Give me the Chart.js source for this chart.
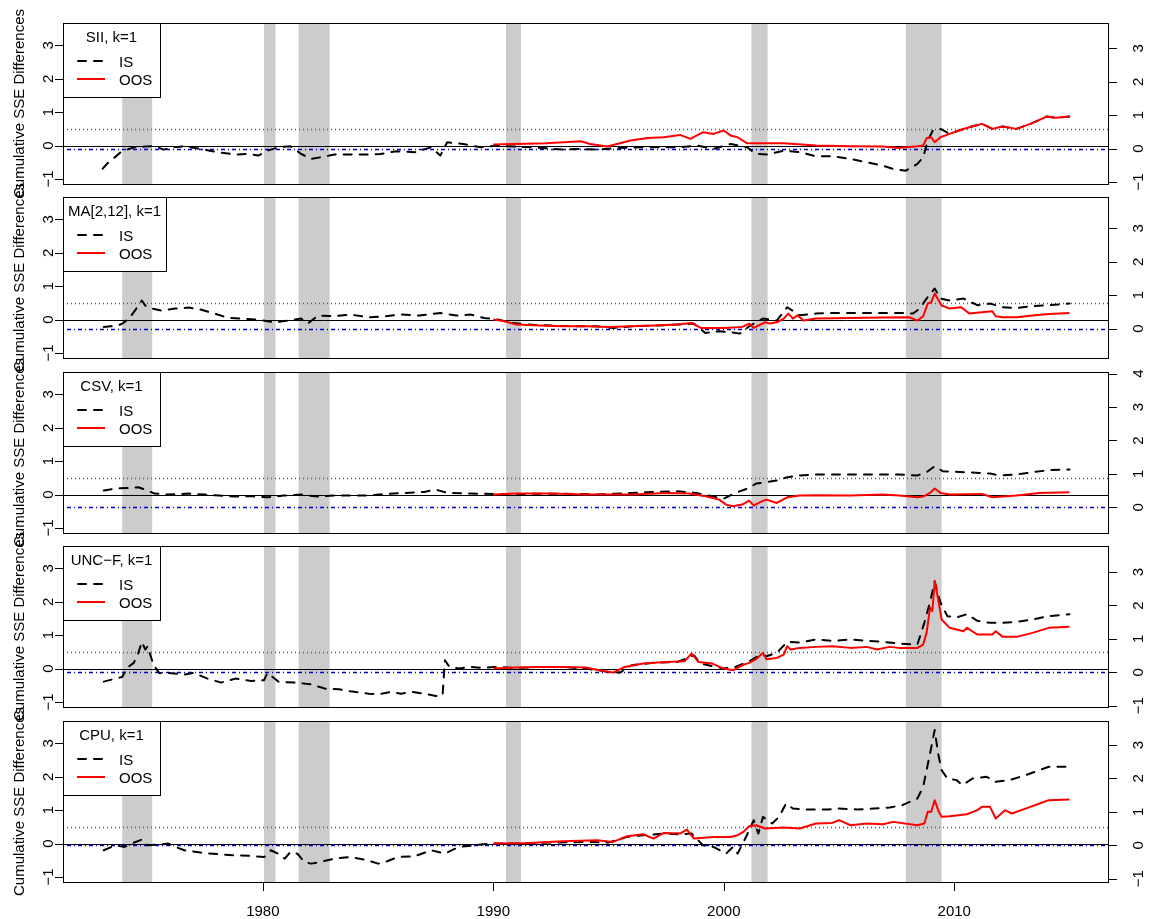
<!DOCTYPE html>
<html>
<head>
<meta charset="utf-8">
<script src="https://cdn.jsdelivr.net/npm/chart.js@4"></script>
<style>
  body { margin: 0; background: #fff; }
  #wrap { position: relative; width: 1149px; height: 919px; }
  #wrap canvas { position: absolute; left: 0; top: 0; }
</style>
</head>
<body>
<div id="wrap"></div>
<script>
// ---- data (year, cumulative SSE difference) ----

const panelTitles = ['SII, k=1', 'MA[2,12], k=1', 'CSV, k=1', 'UNC\u2212F, k=1', 'CPU, k=1'];

// NBER recessions (start, end)
const recessions = [[1973.9, 1975.2], [1980.05, 1980.55], [1981.55, 1982.9],
                    [1990.55, 1991.2], [2001.2, 2001.9], [2007.9, 2009.45]];

// dash-dot reference level per panel (right axis zero)
const blueLevels = [-0.09, -0.27, -0.38, -0.11, -0.05];
const redLevel = 0.5;

const leftTicks = [-1, 0, 1, 2, 3];
const yearTicks = [1980, 1990, 2000, 2010];

const siiIS = [[1973.05,-0.69],[1973.3,-0.5],[1973.56,-0.36],[1973.87,-0.18],[1974.1,-0.12],[1974.43,-0.05],[1974.9,-0.03],
  [1975.3,-0.02],[1975.7,-0.12],[1976.1,-0.05],[1976.6,-0.02],[1977.3,-0.1],[1978.06,-0.2],[1978.8,-0.27],[1979.4,-0.25],
  [1979.8,-0.3],[1980.2,-0.15],[1980.7,-0.05],[1981.2,-0.02],[1981.66,-0.25],[1982.1,-0.4],[1982.5,-0.35],[1983.1,-0.27],
  [1983.8,-0.27],[1984.6,-0.27],[1985.1,-0.25],[1985.8,-0.17],[1986.6,-0.2],[1987.3,-0.05],[1987.7,-0.3],[1988.0,0.1],
  [1988.7,0.05],[1989.45,-0.05],[1990.2,0.0],[1990.9,-0.03],[1991.6,-0.05],[1992.3,-0.08],[1993.0,-0.12],[1993.8,-0.1],
  [1994.5,-0.12],[1995.2,-0.08],[1995.95,-0.06],[1996.7,-0.05],[1997.4,-0.05],[1998.1,-0.05],[1998.85,0.0],[1999.55,-0.1],
  [2000.3,0.05],[2001.0,-0.05],[2001.4,-0.25],[2001.9,-0.27],[2002.6,-0.15],[2003.3,-0.2],[2004.0,-0.32],[2004.7,-0.32],
  [2005.5,-0.4],[2006.2,-0.5],[2006.9,-0.6],[2007.35,-0.7],[2007.9,-0.75],[2008.4,-0.55],[2008.65,-0.35],[2008.85,0.15],
  [2009.07,0.45],[2009.4,0.5],[2009.8,0.35],[2010.2,0.45],[2010.65,0.55],[2011.2,0.65],[2011.65,0.5],[2012.1,0.57],
  [2012.7,0.5],[2013.3,0.65],[2013.7,0.77],[2014.0,0.87],[2014.4,0.83],[2015.0,0.87]];
const siiOOS = [[1990.0,0.03],[1990.9,0.05],[1992.3,0.07],[1993.8,0.13],[1994.2,0.05],[1994.95,-0.03],[1995.95,0.15],
  [1996.7,0.23],[1997.4,0.25],[1998.1,0.32],[1998.55,0.2],[1999.1,0.4],[1999.55,0.35],[2000.0,0.45],[2000.3,0.3],
  [2000.6,0.25],[2001.0,0.07],[2002.6,0.07],[2004.0,0.0],[2005.5,-0.02],[2006.9,-0.03],[2007.6,-0.07],[2008.4,-0.02],
  [2008.65,0.0],[2008.8,0.22],[2009.0,0.25],[2009.15,0.1],[2009.4,0.25],[2009.8,0.35],[2010.2,0.45],[2010.65,0.55],
  [2011.2,0.65],[2011.65,0.5],[2012.1,0.57],[2012.7,0.5],[2013.3,0.65],[2013.7,0.77],[2014.0,0.87],[2014.4,0.83],[2015.0,0.87]];

const maIS = [[1973.1,-0.22],[1973.4,-0.2],[1973.7,-0.18],[1973.9,-0.12],[1974.2,0.03],[1974.45,0.27],[1974.75,0.57],
  [1974.9,0.42],[1975.2,0.33],[1975.6,0.27],[1976.2,0.33],[1976.8,0.36],[1977.3,0.3],[1977.9,0.18],[1978.5,0.05],
  [1979.05,0.03],[1979.8,0.0],[1980.5,-0.08],[1981.1,-0.03],[1981.66,0.03],[1981.95,-0.12],[1982.4,0.12],[1983.1,0.1],
  [1983.8,0.15],[1984.6,0.07],[1985.3,0.1],[1986.0,0.15],[1986.8,0.12],[1987.7,0.2],[1988.4,0.12],[1989.0,0.15],
  [1989.6,0.05],[1990.2,0.0],[1990.8,-0.1],[1991.5,-0.15],[1992.5,-0.18],[1993.5,-0.2],[1994.5,-0.2],[1995.2,-0.25],
  [1996.0,-0.2],[1997.0,-0.18],[1998.0,-0.15],[1998.7,-0.12],[1999.2,-0.4],[1999.8,-0.35],[2000.3,-0.38],[2000.7,-0.42],
  [2001.1,-0.2],[2001.7,0.03],[2002.3,-0.03],[2002.75,0.37],[2003.3,0.13],[2004.0,0.18],[2004.75,0.2],[2005.5,0.2],
  [2006.2,0.2],[2006.9,0.2],[2007.6,0.2],[2008.2,0.18],[2008.5,0.33],[2008.8,0.63],[2009.15,0.93],[2009.4,0.63],
  [2009.8,0.57],[2010.4,0.63],[2011.0,0.43],[2011.55,0.48],[2012.1,0.37],[2012.7,0.35],[2013.4,0.4],[2014.1,0.43],[2015.0,0.48]];
const maOOS = [[1990.0,0.0],[1990.5,-0.05],[1991.0,-0.15],[1992.0,-0.18],[1993.0,-0.2],[1994.0,-0.2],[1995.0,-0.22],
  [1996.0,-0.2],[1997.0,-0.18],[1998.0,-0.15],[1998.6,-0.1],[1999.0,-0.25],[2000.0,-0.25],[2000.8,-0.22],[2001.1,-0.12],
  [2001.3,-0.25],[2001.8,-0.08],[2002.0,-0.12],[2002.3,-0.08],[2002.6,0.03],[2002.8,0.18],[2003.0,0.03],[2003.2,0.13],
  [2003.45,-0.03],[2004.0,0.03],[2005.5,0.05],[2006.9,0.06],[2008.05,0.07],[2008.4,-0.03],[2008.65,0.1],[2008.85,0.48],
  [2009.0,0.52],[2009.15,0.78],[2009.45,0.42],[2009.8,0.33],[2010.3,0.37],[2010.65,0.18],[2011.2,0.22],[2011.65,0.25],
  [2011.8,0.1],[2012.1,0.07],[2012.7,0.07],[2013.4,0.12],[2014.1,0.17],[2015.0,0.2]];

const csvIS = [[1973.1,0.12],[1973.6,0.18],[1974.2,0.2],[1974.6,0.22],[1975.0,0.12],[1975.3,0.03],[1975.9,0.0],
  [1976.8,0.03],[1977.5,0.0],[1978.1,-0.03],[1978.8,-0.06],[1979.5,-0.05],[1980.2,-0.08],[1980.9,-0.03],[1981.66,0.0],
  [1982.4,-0.06],[1983.1,-0.03],[1984.6,-0.03],[1985.3,0.02],[1986.2,0.05],[1987.0,0.08],[1987.5,0.15],[1988.0,0.05],
  [1989.0,0.03],[1990.0,0.02],[1991.5,0.02],[1993.0,0.03],[1994.5,0.0],[1996.0,0.05],[1997.0,0.08],[1998.0,0.1],
  [1998.8,0.05],[1999.5,-0.05],[2000.0,-0.12],[2000.5,0.05],[2001.1,0.2],[2001.4,0.33],[2001.85,0.37],[2002.3,0.42],
  [2002.75,0.52],[2003.3,0.57],[2004.0,0.6],[2005.5,0.6],[2006.9,0.6],[2007.6,0.6],[2008.4,0.57],[2008.8,0.67],
  [2009.15,0.85],[2009.5,0.7],[2010.5,0.67],[2011.55,0.63],[2012.0,0.57],[2012.7,0.6],[2013.4,0.67],[2014.1,0.73],[2015.0,0.75]];
const csvOOS = [[1990.0,0.0],[1991.0,0.03],[1992.5,0.03],[1994.0,0.0],[1996.0,0.0],[1997.5,0.05],[1998.5,0.03],
  [1999.2,-0.05],[1999.8,-0.15],[2000.1,-0.3],[2000.4,-0.35],[2000.8,-0.3],[2001.1,-0.18],[2001.3,-0.33],[2001.6,-0.22],
  [2001.85,-0.15],[2002.3,-0.25],[2002.75,-0.08],[2003.3,-0.03],[2004.0,-0.02],[2005.5,-0.03],[2006.9,0.0],[2007.6,-0.03],
  [2008.4,-0.08],[2008.65,-0.06],[2008.95,0.05],[2009.15,0.18],[2009.4,0.05],[2009.8,0.0],[2011.2,0.02],[2011.65,-0.08],
  [2012.7,-0.03],[2013.7,0.05],[2015.0,0.07]];

const uncIS = [[1973.1,-0.39],[1973.6,-0.3],[1973.9,-0.25],[1974.1,0.02],[1974.4,0.17],[1974.6,0.47],[1974.75,0.8],
  [1974.9,0.57],[1975.0,0.67],[1975.25,0.12],[1975.5,-0.13],[1975.9,-0.13],[1976.6,-0.18],[1977.0,-0.13],[1977.6,-0.3],
  [1978.2,-0.42],[1978.8,-0.3],[1979.5,-0.37],[1980.05,-0.35],[1980.2,-0.13],[1980.7,-0.4],[1981.4,-0.42],[1982.1,-0.47],
  [1982.7,-0.6],[1983.3,-0.62],[1983.8,-0.68],[1984.6,-0.75],[1985.0,-0.77],[1985.55,-0.7],[1986.0,-0.75],[1986.5,-0.7],
  [1987.0,-0.75],[1987.5,-0.82],[1987.8,-0.8],[1987.9,0.25],[1988.1,0.05],[1988.5,0.0],[1989.0,0.05],[1989.5,0.02],
  [1990.0,0.05],[1991.0,0.02],[1992.0,0.05],[1993.0,0.05],[1994.0,0.0],[1995.0,-0.1],[1995.5,-0.12],[1996.0,0.1],
  [1997.0,0.18],[1998.0,0.2],[1998.7,0.4],[1999.0,0.15],[2000.0,0.0],[2000.5,0.05],[2001.1,0.22],[2001.6,0.42],
  [2001.85,0.37],[2002.3,0.47],[2002.75,0.8],[2003.3,0.78],[2004.0,0.87],[2004.7,0.83],[2005.5,0.87],[2006.2,0.83],
  [2006.9,0.8],[2007.6,0.75],[2008.4,0.72],[2008.7,1.37],[2008.95,2.0],[2009.15,2.6],[2009.4,1.98],[2009.7,1.57],
  [2010.1,1.53],[2010.55,1.63],[2011.0,1.43],[2011.55,1.37],[2012.1,1.37],[2012.7,1.4],[2013.4,1.47],[2014.1,1.57],[2015.0,1.63]];
const uncOOS = [[1990.0,0.0],[1991.0,0.03],[1992.0,0.05],[1993.0,0.05],[1994.0,0.03],[1994.6,-0.05],[1995.2,-0.12],
  [1995.7,0.05],[1996.5,0.15],[1997.5,0.2],[1998.3,0.22],[1998.6,0.45],[1998.9,0.2],[1999.5,0.15],[2000.0,0.0],
  [2000.4,-0.05],[2000.8,0.1],[2001.1,0.17],[2001.4,0.28],[2001.7,0.47],[2001.85,0.28],[2002.3,0.32],[2002.6,0.42],
  [2002.75,0.67],[2002.9,0.57],[2003.3,0.62],[2004.0,0.65],[2004.7,0.67],[2005.5,0.62],[2006.2,0.65],[2006.65,0.57],
  [2007.2,0.65],[2007.6,0.62],[2008.4,0.62],[2008.65,0.72],[2008.8,1.07],[2008.95,1.83],[2009.05,1.72],[2009.15,2.63],
  [2009.3,2.08],[2009.45,1.47],[2009.8,1.22],[2010.4,1.12],[2010.55,1.22],[2011.0,1.02],[2011.65,1.02],[2011.8,1.12],
  [2012.1,0.95],[2012.7,0.95],[2013.4,1.07],[2014.1,1.22],[2015.0,1.25]];

const cpuIS = [[1973.1,-0.2],[1973.6,-0.05],[1974.0,-0.1],[1974.3,0.0],[1974.75,0.12],[1975.0,-0.05],[1975.5,-0.03],
  [1975.9,0.0],[1976.2,-0.1],[1976.6,-0.2],[1977.3,-0.27],[1978.1,-0.32],[1978.8,-0.35],[1979.5,-0.37],[1980.07,-0.4],
  [1980.35,-0.2],[1980.65,-0.3],[1980.95,-0.45],[1981.2,-0.25],[1981.5,-0.3],[1981.8,-0.55],[1982.1,-0.6],[1982.5,-0.55],
  [1983.1,-0.45],[1983.8,-0.4],[1984.55,-0.5],[1985.0,-0.6],[1985.4,-0.53],[1985.85,-0.4],[1986.6,-0.38],[1987.3,-0.2],
  [1987.9,-0.3],[1988.5,-0.1],[1989.2,-0.05],[1989.9,0.0],[1991.0,0.0],[1992.5,0.03],[1994.0,0.05],[1995.0,0.03],
  [1995.8,0.2],[1996.5,0.25],[1997.4,0.3],[1998.1,0.28],[1998.6,0.3],[1999.1,-0.05],[1999.55,-0.1],[2000.1,-0.3],
  [2000.4,-0.1],[2000.6,-0.3],[2001.0,0.25],[2001.3,0.7],[2001.5,0.3],[2001.7,0.8],[2002.1,0.6],[2002.4,0.8],
  [2002.7,1.2],[2003.0,1.05],[2003.6,1.02],[2004.5,1.02],[2005.0,1.05],[2005.8,1.02],[2006.5,1.05],[2007.2,1.08],
  [2007.75,1.15],[2008.4,1.35],[2008.65,1.7],[2008.8,2.2],[2008.95,2.7],[2009.15,3.4],[2009.3,2.7],[2009.45,2.2],
  [2009.7,1.95],[2010.1,1.9],[2010.35,1.75],[2010.8,1.95],[2011.4,2.0],[2011.8,1.85],[2012.4,1.9],[2013.1,2.05],
  [2013.7,2.2],[2014.1,2.3],[2015.0,2.3]];
const cpuOOS = [[1990.0,0.0],[1991.6,0.02],[1993.0,0.07],[1994.5,0.1],[1995.2,0.05],[1995.8,0.22],[1996.5,0.28],
  [1996.95,0.15],[1997.4,0.32],[1998.1,0.3],[1998.4,0.42],[1998.7,0.15],[1999.55,0.2],[2000.3,0.2],[2000.6,0.25],
  [2000.85,0.35],[2001.1,0.52],[2001.4,0.55],[2001.8,0.45],[2002.6,0.48],[2003.3,0.45],[2004.0,0.6],[2004.7,0.62],
  [2005.0,0.7],[2005.5,0.55],[2006.2,0.6],[2006.9,0.58],[2007.35,0.65],[2008.4,0.55],[2008.7,0.6],[2008.85,0.95],
  [2009.0,0.95],[2009.15,1.3],[2009.3,1.0],[2009.45,0.8],[2009.8,0.82],[2010.55,0.88],[2011.0,1.0],[2011.2,1.1],
  [2011.55,1.1],[2011.8,0.75],[2012.2,1.0],[2012.5,0.9],[2013.3,1.1],[2013.7,1.2],[2014.1,1.3],[2015.0,1.32]];

const panelIS = [siiIS, maIS, csvIS, uncIS, cpuIS];
const panelOOS = [siiOOS, maOOS, csvOOS, uncOOS, cpuOOS];

// ---- layout ----
const W = 1149, H = 919;
const PLOT_LEFT = 63, PLOT_RIGHT = 1108, PLOT_H = 161;
const panelTops = [23, 197, 372, 546, 721];
const X_MIN = 1971.33, X_MAX = 2016.67;
const Y_MIN = -1.15, Y_MAX = 3.67;
const FONT = "'Liberation Sans', Arial, Helvetica, sans-serif";
const MINUS = '\u2212';

function toXY(arr) {
  return arr.map(p => ({ x: p[0], y: p[1] }));
}

function crisp(v) {
  return Math.round(v) + 0.5;
}

function fmt(v) {
  return v < 0 ? MINUS + Math.abs(v) : String(v);
}

// draws rotated (reading upwards) text with its baseline at bx
function upText(ctx, text, bx, cy) {
  ctx.save();
  ctx.translate(bx, cy);
  ctx.rotate(-Math.PI / 2);
  ctx.textAlign = 'center';
  ctx.textBaseline = 'alphabetic';
  ctx.fillText(text, 0, 0);
  ctx.restore();
}

const panelPlugin = {
  id: 'rPanel',
  beforeDatasetsDraw(chart) {
    const { ctx, chartArea: a, scales } = chart;
    const idx = chart.options.plugins.rPanel.index;
    const xs = scales.x, ys = scales.y;

    // recession shading
    ctx.save();
    ctx.fillStyle = '#CCCCCC';
    recessions.forEach(([s, e]) => {
      const x1 = xs.getPixelForValue(s);
      const x2 = xs.getPixelForValue(e);
      ctx.fillRect(x1, a.top, x2 - x1, a.bottom - a.top);
    });

    // horizontal reference lines
    const hline = (v, color, dash, width) => {
      const y = crisp(ys.getPixelForValue(v));
      ctx.beginPath();
      ctx.strokeStyle = color;
      ctx.lineWidth = width;
      ctx.setLineDash(dash);
      ctx.moveTo(a.left, y);
      ctx.lineTo(a.right, y);
      ctx.stroke();
    };
    hline(0, '#000000', [], 1);
    hline(redLevel, '#D02020', [1, 3], 1.3);
    hline(blueLevels[idx], '#0000CD', [1, 3, 4, 3], 1.4);
    ctx.restore();
  },
  afterDatasetsDraw(chart) {
    const { ctx, chartArea: a, scales } = chart;
    const idx = chart.options.plugins.rPanel.index;
    const xs = scales.x, ys = scales.y, yr = scales.yr;

    ctx.save();
    ctx.font = '15px ' + FONT;
    ctx.fillStyle = '#000';
    ctx.strokeStyle = '#000';
    ctx.lineWidth = 1;
    ctx.setLineDash([]);

    // legend box
    const title = panelTitles[idx];
    const boxW = Math.max(97, Math.ceil(ctx.measureText(title).width) + 10);
    const lx = a.left, ly = a.top;
    ctx.fillStyle = '#fff';
    ctx.fillRect(lx, ly, boxW, 74);
    ctx.strokeRect(crisp(lx), crisp(ly), boxW, 74);
    ctx.fillStyle = '#000';
    ctx.textAlign = 'center';
    ctx.textBaseline = 'alphabetic';
    ctx.fillText(title, lx + boxW / 2, ly + 18.5);

    ctx.lineWidth = 2;
    ctx.lineCap = 'round';
    ctx.beginPath();
    ctx.setLineDash([8, 8]);
    ctx.moveTo(lx + 15, ly + 38);
    ctx.lineTo(lx + 42, ly + 38);
    ctx.stroke();
    ctx.beginPath();
    ctx.setLineDash([]);
    ctx.lineCap = 'butt';
    ctx.strokeStyle = '#FF0000';
    ctx.moveTo(lx + 14, ly + 56);
    ctx.lineTo(lx + 42, ly + 56);
    ctx.stroke();
    ctx.textAlign = 'left';
    ctx.fillText('IS', lx + 56, ly + 43.5);
    ctx.fillText('OOS', lx + 56, ly + 61.5);

    // plot box
    ctx.strokeStyle = '#000';
    ctx.lineWidth = 1;
    ctx.strokeRect(crisp(a.left), crisp(a.top), a.right - a.left, a.bottom - a.top);

    // left axis
    ctx.beginPath();
    leftTicks.forEach(v => {
      const y = crisp(ys.getPixelForValue(v));
      ctx.moveTo(a.left, y);
      ctx.lineTo(a.left - 8, y);
    });
    ctx.stroke();
    leftTicks.forEach(v => upText(ctx, fmt(v), 53, ys.getPixelForValue(v)));

    // right axis (shifted by the dash-dot level)
    ctx.beginPath();
    const rTicks = [];
    for (let r = Math.ceil(yr.min); r <= Math.floor(yr.max); r++) rTicks.push(r);
    rTicks.forEach(r => {
      const y = crisp(yr.getPixelForValue(r));
      ctx.moveTo(a.right, y);
      ctx.lineTo(a.right + 9, y);
    });
    ctx.stroke();
    rTicks.forEach(r => upText(ctx, fmt(r), 1142.5, yr.getPixelForValue(r)));

    // y title
    upText(ctx, 'Cumulative SSE Differences', 24, (a.top + a.bottom) / 2);

    // x axis on the bottom panel only
    if (idx === panelTops.length - 1) {
      ctx.beginPath();
      yearTicks.forEach(t => {
        const x = crisp(xs.getPixelForValue(t));
        ctx.moveTo(x, a.bottom);
        ctx.lineTo(x, a.bottom + 9);
      });
      ctx.stroke();
      ctx.textAlign = 'center';
      yearTicks.forEach(t => ctx.fillText(String(t), xs.getPixelForValue(t), 916));
    }
    ctx.restore();
  }
};

const wrap = document.getElementById('wrap');

panelTops.forEach((top, i) => {
  const canvas = document.createElement('canvas');
  canvas.width = W;
  canvas.height = H;
  wrap.appendChild(canvas);
  const blue = blueLevels[i];

  new Chart(canvas, {
    type: 'line',
    data: {
      datasets: [
        {
          label: 'OOS',
          data: toXY(panelOOS[i]),
          xAxisID: 'x',
          yAxisID: 'y',
          borderColor: '#FF0000',
          borderWidth: 2,
          borderJoinStyle: 'round',
          pointRadius: 0,
          tension: 0
        },
        {
          label: 'IS',
          data: toXY(panelIS[i]),
          xAxisID: 'x',
          yAxisID: 'y',
          borderColor: '#000000',
          borderWidth: 2,
          borderDash: [8, 8],
          borderCapStyle: 'round',
          borderJoinStyle: 'round',
          pointRadius: 0,
          tension: 0
        }
      ]
    },
    options: {
      responsive: false,
      animation: false,
      events: [],
      layout: {
        padding: { left: PLOT_LEFT, right: W - PLOT_RIGHT, top: top, bottom: H - top - PLOT_H }
      },
      scales: {
        x: { type: 'linear', display: false, min: X_MIN, max: X_MAX },
        y: { type: 'linear', display: false, min: Y_MIN, max: Y_MAX },
        yr: { type: 'linear', display: false, position: 'right', min: Y_MIN - blue, max: Y_MAX - blue }
      },
      plugins: {
        legend: { display: false },
        tooltip: { enabled: false },
        rPanel: { index: i }
      }
    },
    plugins: [panelPlugin]
  });
});
</script>
</body>
</html>
